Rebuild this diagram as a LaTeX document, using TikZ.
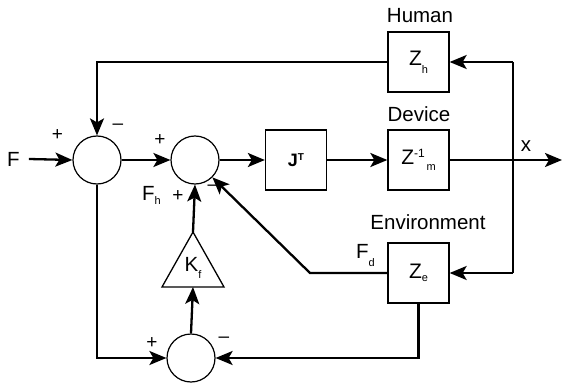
\documentclass[tikz,border=0pt]{standalone}
\usepackage{fontspec}
\setmainfont{Liberation Sans}
\usetikzlibrary{arrows.meta}
\newcommand\lowsub[2][7pt]{\raisebox{-#1}{\fontsize{11}{11}\selectfont #2}}
\begin{document}
\begin{tikzpicture}[x=1pt,y=-1pt,
  conn/.style={line width=2.3pt,-{Stealth[length=17pt,width=14pt,inset=4pt]}},
  wire/.style={line width=2.3pt},
  blk/.style={draw,line width=1.3pt,minimum width=61pt,minimum height=60pt,inner sep=0pt,font=\fontsize{21}{21}\selectfont},
  sumc/.style={draw,circle,line width=1.2pt,minimum size=48pt,inner sep=0pt},
  lbl/.style={font=\fontsize{20.5}{20.5}\selectfont,inner sep=0pt},
  sgn/.style={font=\fontsize{19}{19}\selectfont,inner sep=0pt}]
\useasboundingbox (0,0) rectangle (562,385);
% summing junctions
\node[sumc] (s1) at (97,160) {};
\node[sumc] (s2) at (195,160) {};
\node[sumc] (s3) at (191,358) {};
% blocks
\node[blk] (jt) at (296,160) {\fontsize{18}{18}\selectfont\bfseries J\raisebox{6pt}{\fontsize{10}{10}\selectfont T}};
\node[blk] (zh) at (418.5,62) {Z\lowsub[8pt]{h}};
\node[blk] (zm) at (418.5,160) {Z\raisebox{7pt}{\fontsize{12}{12}\selectfont -1}\lowsub[6pt]{\,m}};
\node[blk] (ze) at (418.5,273) {Z\lowsub[3pt]{e}};
% gain triangle
\draw[line width=1.3pt,line join=miter] (193,232) -- (224,287) -- (162,287) -- cycle;
\node[lbl] (kf) at (193,268) {K\lowsub[7pt]{f}};
\coordinate (kftop) at (193,232);
\coordinate (kfbot) at (193,287);
% texts
\node[lbl] (F) at (13.5,159) {F};
\node[lbl,anchor=base] (hum) at (420,23) {Human};
\node[lbl,anchor=base] (dev) at (419,122) {Device};
\node[lbl,anchor=base] (env) at (428,229) {Environment};
\node[lbl,anchor=base] (xl) at (526,152) {x};
\node[lbl,anchor=base west] (fh) at (142,200) {F\lowsub[4pt]{h}};
\node[lbl,anchor=base west] (fd) at (356,258) {F\lowsub[8pt]{d}};
% signs
\node[sgn] (p1) at (57.5,135) {+};
\node[sgn] (m1) at (118,127) {–};
\node[sgn] (p2) at (160,140) {+};
\node[sgn] (p3) at (178,196) {+};
\node[sgn] (m2) at (213,188) {–};
\node[sgn] (p4) at (152,343) {+};
\node[sgn] (m3) at (224,340) {–};
% junction points
\coordinate (vt) at (513,62);
\coordinate (vb) at (513,273);
\coordinate (out) at (562,160);
\coordinate (bend) at (310,273);
% connectors
\draw[conn] ([xshift=9pt]F.east) -- (s1.west);
\draw[conn] (s1.east) -- (s2.west);
\draw[conn] (s2.east) -- (jt.west);
\draw[conn] (jt.east) -- (zm.west);
\draw[conn] (zm.east) -- (out);
\draw[wire] (vt) -- (vb);
\draw[conn] (vt) -- (zh.east);
\draw[conn] (vb) -- (ze.east);
\draw[conn] (zh.west) -| (s1.north);
\draw[conn] (ze.west) -- (bend) -- (s2.-45);
\draw[conn] (kftop) -- (s2.south);
\draw[conn] (s3.north) -- (kfbot);
\draw[conn] (s1.south) |- (s3.west);
\draw[conn] (ze.south) |- (s3.east);
\end{tikzpicture}
\end{document}
